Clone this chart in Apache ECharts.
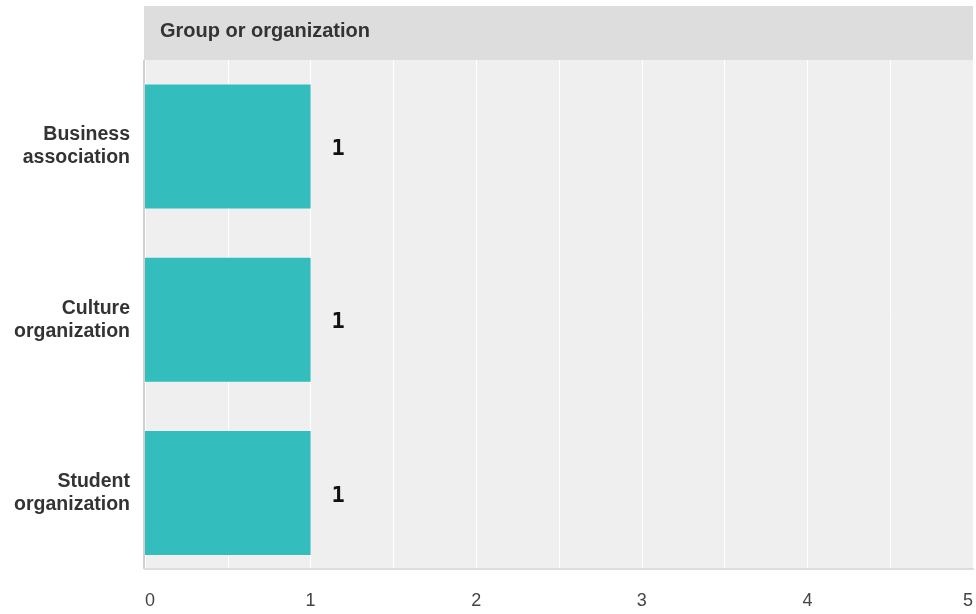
<!DOCTYPE html>
<html>
<head>
<meta charset="utf-8">
<style>
  html, body { margin: 0; padding: 0; background: #ffffff; }
  #chart { width: 976px; height: 614px; }
</style>
<script src="https://cdn.jsdelivr.net/npm/echarts@6/dist/echarts.min.js"></script>
</head>
<body>
<div id="chart"></div>
<script>
// Responses by group type
const chartTitle = 'Group or organization';
const categories = ['Business\nassociation', 'Culture\norganization', 'Student\norganization'];
const counts = [1, 1, 1];
const axisMax = 5;

const chart = echarts.init(document.getElementById('chart'));

chart.setOption({
  animation: false,
  backgroundColor: '#ffffff',
  grid: {
    left: 145,
    right: 3,
    top: 60,
    bottom: 34.5,
    containLabel: false
  },
  graphic: [
    // plot panel background
    {
      type: 'rect',
      z: -20,
      shape: { x: 145, y: 60, width: 828, height: 509 },
      style: { fill: '#efefef' }
    },
    // left border of the panel
    {
      type: 'rect',
      z: -5,
      shape: { x: 143, y: 60, width: 2, height: 509 },
      style: { fill: '#d0d0d0' }
    },
    // header band
    {
      type: 'rect',
      z: -20,
      shape: { x: 144, y: 6, width: 829, height: 54 },
      style: { fill: '#dddddd' }
    },
    {
      type: 'text',
      z: 10,
      style: {
        x: 160,
        y: 31,
        text: chartTitle,
        verticalAlign: 'middle',
        fill: '#333333',
        font: 'bold 20px "Liberation Sans", Arial, sans-serif'
      }
    }
  ],
  xAxis: {
    type: 'value',
    min: 0,
    max: axisMax,
    interval: 0.5,
    offset: -10.5,
    axisLine: { show: true, lineStyle: { color: '#dddddd', width: 2 } },
    axisTick: { show: false },
    splitLine: { show: true, lineStyle: { color: '#ffffff', width: 1 } },
    axisLabel: {
      margin: 23,
      color: '#444444',
      fontSize: 18,
      fontFamily: '"Liberation Sans", Arial, sans-serif',
      alignMinLabel: 'left',
      alignMaxLabel: 'right',
      formatter: function (v) {
        return Number.isInteger(v) ? String(v) : '';
      }
    }
  },
  yAxis: {
    type: 'category',
    data: categories,
    inverse: true,
    axisLine: { show: false },
    axisTick: { show: false },
    splitLine: { show: false },
    axisLabel: {
      margin: 15,
      color: '#333333',
      fontSize: 19.5,
      fontWeight: 'bold',
      lineHeight: 23,
      padding: [2, 0, 0, 0],
      fontFamily: '"Liberation Sans", Arial, sans-serif',
      align: 'right'
    }
  },
  series: [{
    type: 'bar',
    data: counts,
    barWidth: 124,
    itemStyle: { color: '#33bdbd' },
    label: {
      show: true,
      position: 'right',
      distance: 21,
      offset: [0, 3],
      color: '#111111',
      fontSize: 22,
      fontWeight: 'bold',
      fontFamily: '"DejaVu Sans Mono", "DejaVu Sans", monospace'
    }
  }]
});
</script>
</body>
</html>
